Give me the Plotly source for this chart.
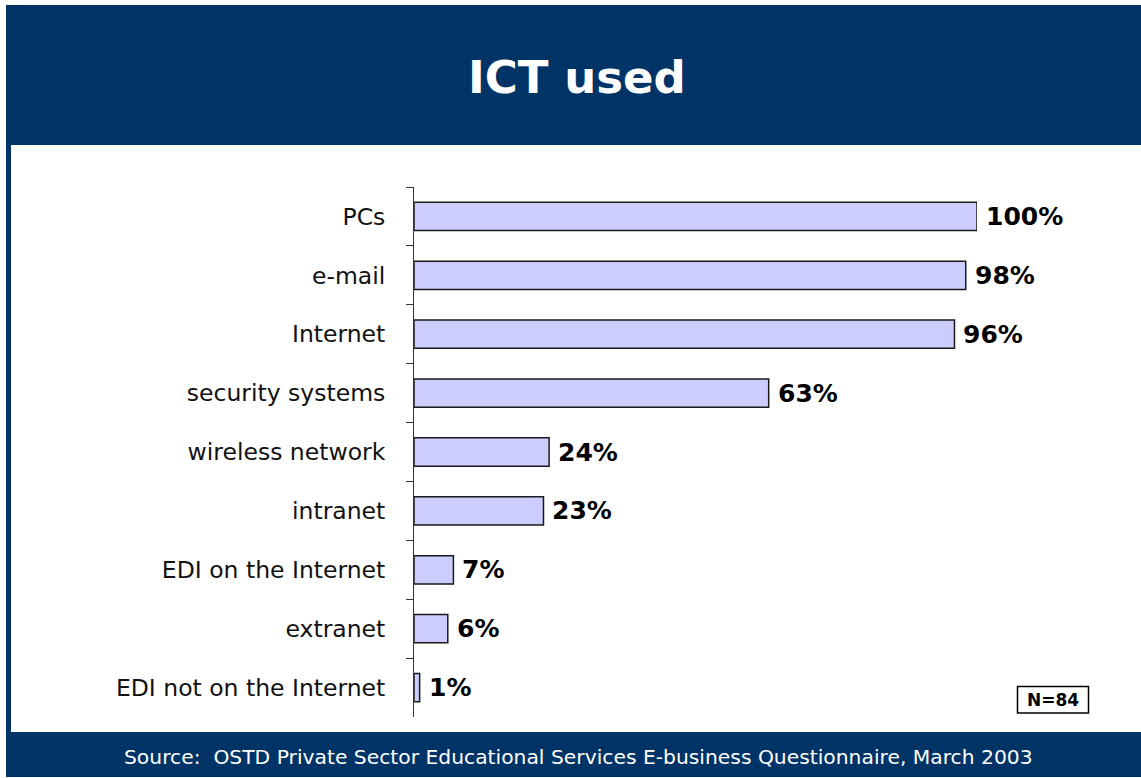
import plotly.graph_objects as go

# Survey results: share of respondents using each technology
categories = [
    "PCs", "e-mail", "Internet", "security systems", "wireless network",
    "intranet", "EDI on the Internet", "extranet", "EDI not on the Internet",
]
values = [100, 98, 96, 63, 24, 23, 7, 6, 1]

title_text = "ICT used"
source_text = "Source:  OSTD Private Sector Educational Services E-business Questionnaire, March 2003"
sample_text = "N=84"

W, H = 1141, 778
# plot area in pixels
L, R, T, B = 414, 977, 187, 717
NAVY = "#003366"
FONT = "DejaVu Sans"


def px_x(p):
    return (p - L) / (R - L)


def px_y(p):
    return (B - p) / (B - T)


fig = go.Figure()
fig.add_trace(go.Bar(
    x=values,
    y=categories,
    orientation="h",
    width=0.48,
    marker=dict(color="#CCCCFF", line=dict(color="#1a1a1a", width=1.5)),
    hoverinfo="skip",
))

annotations = []
for c, v in zip(categories, values):
    annotations.append(dict(
        x=v, y=c, xref="x", yref="y", text=f"{v}%", showarrow=False,
        xanchor="left", yanchor="middle", xshift=7,
        font=dict(family=FONT, size=25, color="black", weight="bold"),
    ))

annotations += [
    dict(x=px_x(576.5), y=px_y(77), xref="paper", yref="paper", text=title_text,
         showarrow=False, xanchor="center", yanchor="middle",
         font=dict(family=FONT, size=45, color="white", weight="bold")),
    dict(x=px_x(578), y=px_y(757), xref="paper", yref="paper", text=source_text,
         showarrow=False, xanchor="center", yanchor="middle",
         font=dict(family=FONT, size=20.3, color="white")),
    dict(x=px_x(1053), y=px_y(699.5), xref="paper", yref="paper", text=sample_text,
         showarrow=False, xanchor="center", yanchor="middle",
         font=dict(family=FONT, size=17, color="black", weight="bold")),
]

shapes = [
    # navy frame
    dict(type="rect", xref="paper", yref="paper", layer="below",
         x0=px_x(6), x1=px_x(W), y0=px_y(777), y1=px_y(5),
         fillcolor=NAVY, line=dict(width=0)),
    # white chart panel
    dict(type="rect", xref="paper", yref="paper", layer="below",
         x0=px_x(11), x1=px_x(W), y0=px_y(732), y1=px_y(145),
         fillcolor="white", line=dict(width=0)),
    # sample size box
    dict(type="rect", xref="paper", yref="paper",
         x0=px_x(1017.5), x1=px_x(1088.5), y0=px_y(713), y1=px_y(686.5),
         fillcolor="white", line=dict(color="black", width=1.5)),
]

fig.update_layout(
    width=W, height=H,
    margin=dict(l=L, r=W - R, t=T, b=H - B, pad=0),
    paper_bgcolor="white",
    plot_bgcolor="rgba(0,0,0,0)",
    showlegend=False,
    shapes=shapes,
    annotations=annotations,
    xaxis=dict(range=[0, 100], visible=False, fixedrange=True),
    yaxis=dict(
        type="category",
        categoryorder="array",
        categoryarray=categories,
        autorange="reversed",
        showline=True, linecolor="#333333", linewidth=1,
        ticks="outside", tickson="boundaries", ticklen=7,
        tickcolor="#333333", tickwidth=1,
        ticklabelstandoff=23,
        tickfont=dict(family=FONT, size=23.5, color="#111111"),
        showgrid=False, zeroline=False, fixedrange=True,
    ),
)

fig.write_html("out.html")
